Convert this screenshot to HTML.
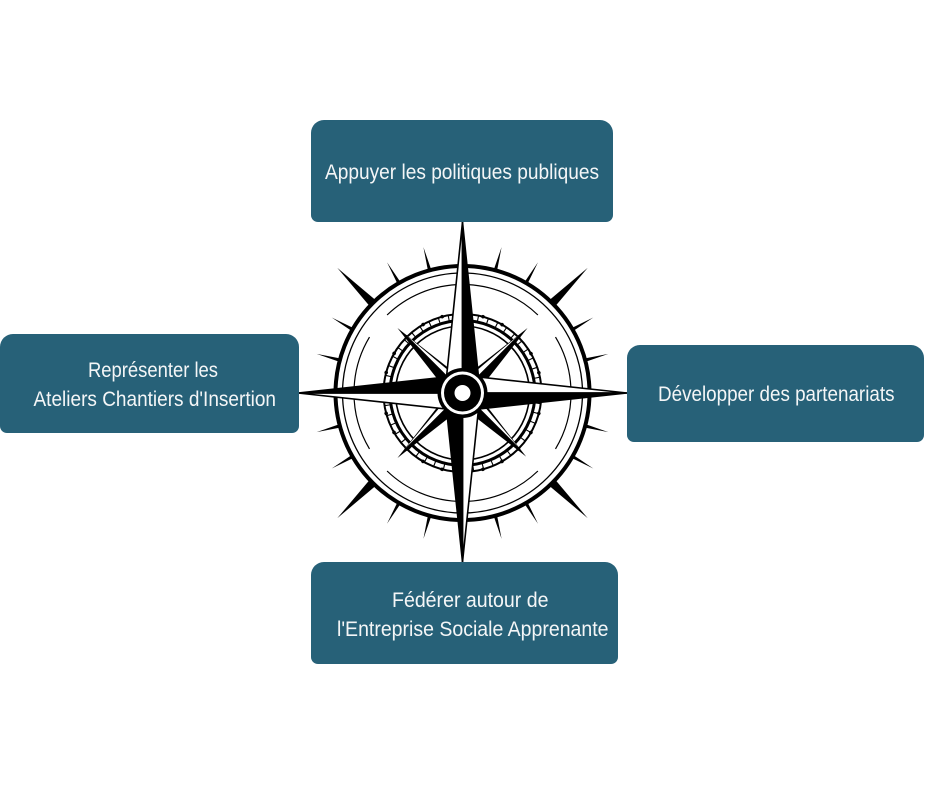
<!DOCTYPE html>
<html>
<head>
<meta charset="utf-8">
<style>
html,body{margin:0;padding:0;background:#fff;}
#wrap{position:relative;width:940px;height:788px;overflow:hidden;background:#fff;}
.box{position:absolute;background:#276178;border-radius:13px 13px 7px 7px;z-index:2;}
svg{position:absolute;left:0;top:0;}
#compass{z-index:1;}
#txt{z-index:3;}
#txt text{font-family:"Liberation Sans",sans-serif;font-size:21px;fill:#f4f6f7;}
</style>
</head>
<body>
<div id="wrap">
<svg id="compass" width="940" height="788" viewBox="0 0 940 788">
  <g transform="translate(462.5,393)">
    <g fill="#000">
      <polygon points="-4.5,-124 0,-177 4.5,-124" transform="rotate(45)"/>
      <polygon points="-4.5,-124 0,-177 4.5,-124" transform="rotate(135)"/>
      <polygon points="-4.5,-124 0,-177 4.5,-124" transform="rotate(225)"/>
      <polygon points="-4.5,-124 0,-177 4.5,-124" transform="rotate(315)"/>
      <polygon points="-1.8,-126 0,-151 1.8,-126" transform="rotate(15)"/>
      <polygon points="-1.8,-126 0,-151 1.8,-126" transform="rotate(30)"/>
      <polygon points="-1.8,-126 0,-151 1.8,-126" transform="rotate(60)"/>
      <polygon points="-1.8,-126 0,-151 1.8,-126" transform="rotate(75)"/>
      <polygon points="-1.8,-126 0,-151 1.8,-126" transform="rotate(105)"/>
      <polygon points="-1.8,-126 0,-151 1.8,-126" transform="rotate(120)"/>
      <polygon points="-1.8,-126 0,-151 1.8,-126" transform="rotate(150)"/>
      <polygon points="-1.8,-126 0,-151 1.8,-126" transform="rotate(165)"/>
      <polygon points="-1.8,-126 0,-151 1.8,-126" transform="rotate(195)"/>
      <polygon points="-1.8,-126 0,-151 1.8,-126" transform="rotate(210)"/>
      <polygon points="-1.8,-126 0,-151 1.8,-126" transform="rotate(240)"/>
      <polygon points="-1.8,-126 0,-151 1.8,-126" transform="rotate(255)"/>
      <polygon points="-1.8,-126 0,-151 1.8,-126" transform="rotate(285)"/>
      <polygon points="-1.8,-126 0,-151 1.8,-126" transform="rotate(300)"/>
      <polygon points="-1.8,-126 0,-151 1.8,-126" transform="rotate(330)"/>
      <polygon points="-1.8,-126 0,-151 1.8,-126" transform="rotate(345)"/>
    </g>
    <circle r="127" fill="#fff" stroke="#000" stroke-width="4"/>
    <circle r="120" fill="none" stroke="#000" stroke-width="1.3"/>
    <g fill="none" stroke="#000" stroke-width="1.2">
      <path d="M -75.4,-78 A 108.5 108.5 0 0 1 75.4,-78"/>
      <path d="M 93,-55.9 A 108.5 108.5 0 0 1 93,55.9"/>
      <path d="M 75.4,78 A 108.5 108.5 0 0 1 -75.4,78"/>
      <path d="M -93,55.9 A 108.5 108.5 0 0 1 -93,-55.9"/>
    </g>
    <circle r="79" fill="none" stroke="#000" stroke-width="2"/>
    <circle r="76" fill="none" stroke="#000" stroke-width="6" stroke-dasharray="1.1 8.717"/>
    <circle r="79" fill="none" stroke="#000" stroke-width="3.6" stroke-linecap="round" stroke-dasharray="0.01 20.6695"/>
    <circle r="72.5" fill="none" stroke="#000" stroke-width="3"/>
    <circle r="67" fill="none" stroke="#000" stroke-width="1.6"/>
    <g>
      <g transform="rotate(45)">
        <polygon points="0,-92 10,-10 0,0 -10,-10" fill="#000"/>
        <polygon points="-1.3,-80 -7,-13 -1.3,-11" fill="#fff"/>
      </g>
      <g transform="rotate(135)">
        <polygon points="0,-90 10,-10 0,0 -10,-10" fill="#000"/>
        <polygon points="-1.3,-78 -7,-13 -1.3,-11" fill="#fff"/>
      </g>
      <g transform="rotate(225)">
        <polygon points="0,-92 10,-10 0,0 -10,-10" fill="#000"/>
        <polygon points="1.3,-80 7,-13 1.3,-11" fill="#fff"/>
      </g>
      <g transform="rotate(315)">
        <polygon points="0,-92 10,-10 0,0 -10,-10" fill="#000"/>
        <polygon points="1.3,-80 7,-13 1.3,-11" fill="#fff"/>
      </g>
    </g>
    <g stroke="#000" stroke-width="1.6" stroke-linejoin="miter">
      <g>
        <polygon points="0,-171 0,0 -16,-16" fill="#fff"/>
        <polygon points="0,-171 16,-16 0,0" fill="#000"/>
      </g>
      <g transform="rotate(90)">
        <polygon points="0,-164.5 0,0 -16,-16" fill="#fff"/>
        <polygon points="0,-164.5 16,-16 0,0" fill="#000"/>
      </g>
      <g transform="rotate(180)">
        <polygon points="0,-169 0,0 -16,-16" fill="#fff"/>
        <polygon points="0,-169 16,-16 0,0" fill="#000"/>
      </g>
      <g transform="rotate(270)">
        <polygon points="0,-164.5 0,0 -16,-16" fill="#fff"/>
        <polygon points="0,-164.5 16,-16 0,0" fill="#000"/>
      </g>
    </g>
    <circle r="25" fill="#000"/>
    <circle r="21.5" fill="#fff"/>
    <circle r="18.5" fill="#000"/>
    <circle r="8" fill="#fff"/>
  </g>
</svg>

<div class="box" style="left:311px;top:120px;width:302px;height:102px;"></div>
<div class="box" style="left:0px;top:334px;width:299px;height:99px;"></div>
<div class="box" style="left:627px;top:345px;width:297px;height:97px;"></div>
<div class="box" style="left:311px;top:562px;width:307px;height:102px;"></div>

<svg id="txt" width="940" height="788" viewBox="0 0 940 788">
  <text x="325" y="179" textLength="274" lengthAdjust="spacingAndGlyphs">Appuyer les politiques publiques</text>
  <text x="88" y="377" textLength="130" lengthAdjust="spacingAndGlyphs">Représenter les</text>
  <text x="33.5" y="406" textLength="242.5" lengthAdjust="spacingAndGlyphs">Ateliers Chantiers d'Insertion</text>
  <text x="658" y="401" textLength="236.5" lengthAdjust="spacingAndGlyphs">Développer des partenariats</text>
  <text x="392" y="607" textLength="156.5" lengthAdjust="spacingAndGlyphs">Fédérer autour de</text>
  <text x="337" y="636" textLength="271.5" lengthAdjust="spacingAndGlyphs">l'Entreprise Sociale Apprenante</text>
</svg>
</div>
</body>
</html>
